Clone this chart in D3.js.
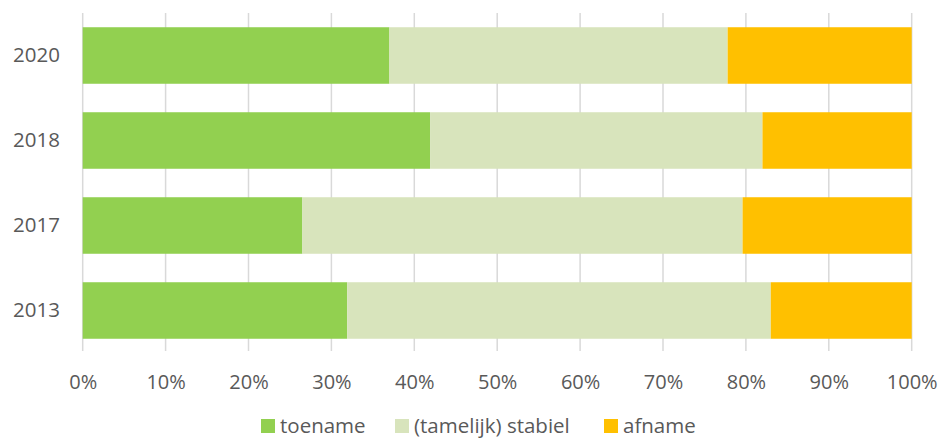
<!DOCTYPE html>
<html>
<head>
<meta charset="utf-8">
<script src="https://cdn.jsdelivr.net/npm/d3@7"></script>
<style>
  body { margin: 0; background: #fff; }
  svg text { font-family: "Open Sans", sans-serif; fill: #595959; }
</style>
</head>
<body>
<div id="chartDiv"></div>
<script>
// data (percent)
var years = ["2020", "2018", "2017", "2013"];
var seriesNames = ["toename", "(tamelijk) stabiel", "afname"];
var toename = [37.0, 41.9, 26.5, 31.9];
var stabiel = [40.8, 40.1, 53.1, 51.1];
var afname = [22.2, 18.0, 20.4, 17.0];
var tickValues = [0, 10, 20, 30, 40, 50, 60, 70, 80, 90, 100];
var colors = ["#92D050", "#D8E4BC", "#FFC000"];

var width = 941;
var height = 438;

var rows = years.map(function(y, i) {
    return { year: y, toename: toename[i], stabiel: stabiel[i], afname: afname[i] };
});
var stack = d3.stack().keys(["toename", "stabiel", "afname"]);
var layers = stack(rows);

var xScale = d3.scaleLinear().domain([0, 100]).range([82.7, 911.7]);
var yScale = d3.scaleBand().domain(years).range([13, 353])
               .paddingInner(0.335).paddingOuter(0.1675);

var svg = d3.select("#chartDiv")
            .append("svg")
            .attr("width", width)
            .attr("height", height);

// vertical gridlines
svg.append("g")
   .selectAll("line")
   .data(tickValues)
   .enter()
   .append("line")
   .attr("x1", function(d) { return xScale(d); })
   .attr("x2", function(d) { return xScale(d); })
   .attr("y1", 13)
   .attr("y2", 351)
   .attr("stroke", "#D9D9D9")
   .attr("stroke-width", 1.5);

// bars
svg.append("g")
   .selectAll("g")
   .data(layers)
   .enter()
   .append("g")
   .attr("fill", function(d, i) { return colors[i]; })
   .selectAll("rect")
   .data(function(d) { return d; })
   .enter()
   .append("rect")
   .attr("x", function(d) { return xScale(d[0]); })
   .attr("width", function(d) { return xScale(d[1]) - xScale(d[0]); })
   .attr("y", function(d) { return yScale(d.data.year); })
   .attr("height", yScale.bandwidth());

// x axis labels
var xAxis = d3.axisBottom(xScale)
              .tickValues(tickValues)
              .tickFormat(function(d) { return d + "%"; })
              .tickSize(0)
              .tickPadding(0);
var gx = svg.append("g")
            .attr("transform", "translate(0,375)")
            .call(xAxis);
gx.select(".domain").remove();
gx.selectAll("text")
  .attr("dy", "0.71em")
  .style("font-size", "20px")
  .style("font-family", "'Open Sans', sans-serif")
  .attr("fill", "#595959");

// y axis labels
var yAxis = d3.axisLeft(yScale).tickSize(0).tickPadding(0);
var gy = svg.append("g")
            .attr("transform", "translate(60,0)")
            .call(yAxis);
gy.select(".domain").remove();
gy.selectAll("text")
  .style("font-size", "20.5px")
  .style("font-family", "'Open Sans', sans-serif")
  .attr("fill", "#595959");

// legend
var legendX = [261, 395, 604];
var legend = svg.append("g")
                .selectAll("g")
                .data(seriesNames)
                .enter()
                .append("g")
                .attr("transform", function(d, i) { return "translate(" + legendX[i] + ",419)"; });
legend.append("rect")
      .attr("width", 14)
      .attr("height", 14)
      .attr("fill", function(d, i) { return colors[i]; });
legend.append("text")
      .attr("x", 19)
      .attr("y", 7)
      .attr("dy", "0.35em")
      .style("font-size", "20.5px")
      .text(function(d) { return d; });
</script>
</body>
</html>
